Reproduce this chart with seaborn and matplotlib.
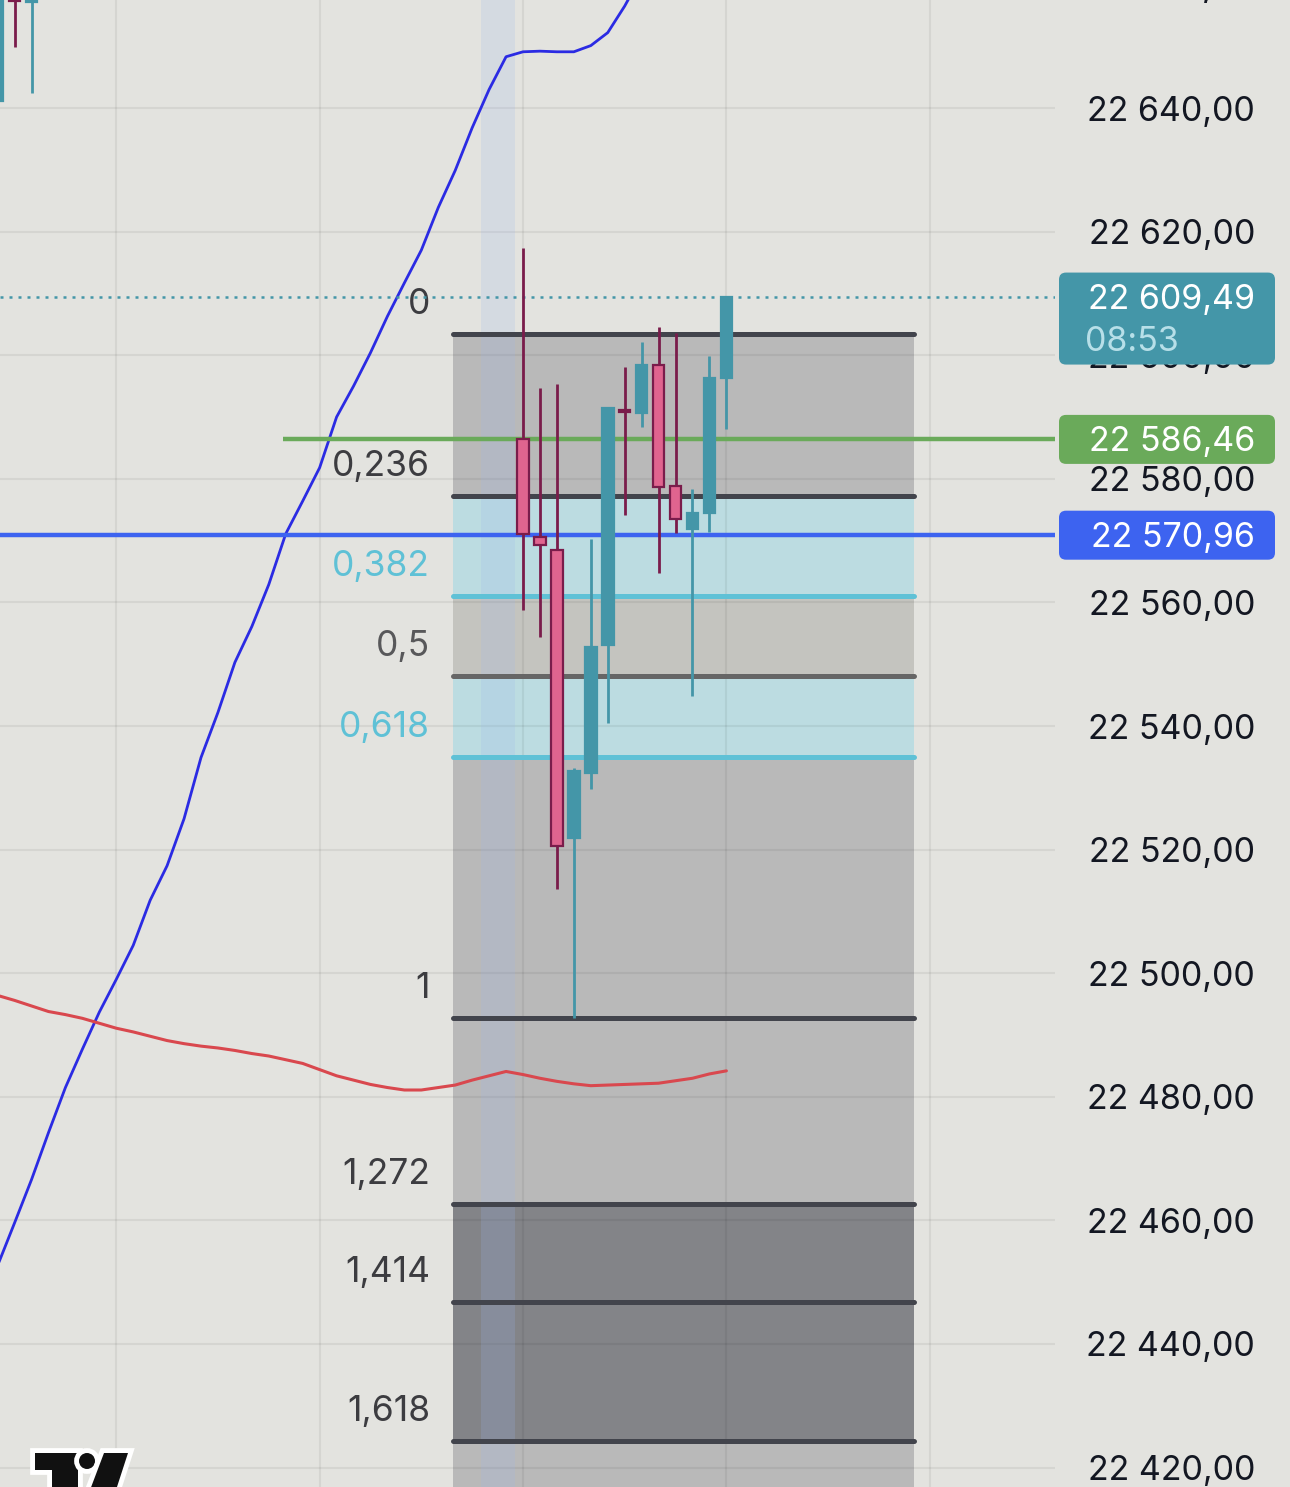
import matplotlib
matplotlib.use("Agg")
import seaborn as sns
import matplotlib.patheffects as pe
from matplotlib import pyplot as plt
from matplotlib.patches import FancyBboxPatch, Circle, Polygon
from matplotlib.transforms import IdentityTransform, blended_transform_factory

# candles: bar index relative to the first bar of the swing, OHLC
bar_idx = [-31, -30, -29, 0, 1, 2, 3, 4, 5, 6, 7, 8, 9, 10, 11, 12]
opens = [22641.1, 22668.0, 22657.2, 22586.5, 22570.6, 22568.5, 22521.8, 22532.4,
         22553.1, 22591.1, 22590.7, 22598.4, 22578.8, 22571.9, 22574.5, 22596.3]
highs = [22668.0, 22670.0, 22668.0, 22617.4, 22594.7, 22595.3, 22533.2, 22570.3,
         22591.5, 22598.1, 22602.1, 22604.6, 22603.6, 22578.4, 22599.9, 22609.49]
lows = [22641.1, 22649.9, 22642.5, 22558.8, 22554.4, 22513.6, 22492.7, 22529.8,
        22540.5, 22574.1, 22588.4, 22564.8, 22571.2, 22544.9, 22571.4, 22588.1]
closes = [22665.0, 22657.3, 22662.0, 22571.0, 22569.3, 22520.6, 22532.7, 22552.8,
          22591.5, 22590.8, 22598.4, 22578.7, 22573.5, 22574.5, 22596.3, 22609.49]

# fast moving average (blue)
fast_idx = list(range(-31, 8))
fast_ma = [22452.7, 22459.6, 22466.6, 22474.2, 22481.5, 22487.7, 22493.7, 22499.0,
           22504.5, 22511.8, 22517.4, 22525.0, 22534.9, 22542.2, 22550.3, 22556.1,
           22562.9, 22571.1, 22576.4, 22581.8, 22590.0, 22595.0, 22600.4, 22606.3,
           22611.7, 22617.0, 22623.9, 22629.9, 22636.8, 22643.0, 22648.3, 22649.1,
           22649.2, 22649.1, 22649.1, 22650.1, 22652.2, 22656.5, 22661.5]

# slow moving average (red)
slow_idx = list(range(-31, 13))
slow_ma = [22496.4, 22495.6, 22494.7, 22493.8, 22493.3, 22492.7, 22491.9, 22491.1,
           22490.5, 22489.8, 22489.1, 22488.6, 22488.2, 22487.9, 22487.5, 22487.0,
           22486.6, 22486.0, 22485.4, 22484.4, 22483.4, 22482.7, 22482.0, 22481.5,
           22481.1, 22481.1, 22481.5, 22481.9, 22482.7, 22483.4, 22484.1, 22483.6,
           22483.0, 22482.5, 22482.1, 22481.8, 22481.9, 22482.0, 22482.1, 22482.2,
           22482.6, 22483.0, 22483.7, 22484.2]

# fibonacci retracement
fib_top = 22603.4
fib_bottom = 22492.7
fib_levels = [0, 0.236, 0.382, 0.5, 0.618, 1, 1.272, 1.414, 1.618, 2.618]
fib_labels = ['0', '0,236', '0,382', '0,5', '0,618', '1', '1,272', '1,414', '1,618', '']

last_price = 22609.49
last_price_text = '22 609,49'
countdown = '08:53'
green_level = 22586.46
green_text = '22 586,46'
blue_level = 22570.96
blue_text = '22 570,96'
price_ticks = list(range(22420, 22661, 20))
grid_bars = [-24, -12, 0, 12, 24]

BG = '#e3e3df'
TEAL = '#4496a8'
BEAR = '#e0648f'
BEAR_EDGE = '#7a1c4b'
DARK = '#42444c'
CYAN = '#5fc1d6'

zone_colors = ['#b9b9b9', '#bcdce1', '#c4c4bf', '#bcdce1', '#b9b9b9',
               '#b9b9b9', '#838488', '#838488', '#b9b9b9']
line_colors = [DARK, DARK, CYAN, '#666666', CYAN, DARK, DARK, DARK, DARK, DARK]
label_colors = ['#3c3c40', '#3c3c40', CYAN, '#58585a', CYAN,
                '#3c3c40', '#3c3c40', '#3c3c40', '#3c3c40', '#3c3c40']

sns.set_theme(style='white')
plt.rcParams['font.family'] = ['Inter', 'DejaVu Sans']

fig = plt.figure(figsize=(12.9, 14.87), dpi=100)
fig.patch.set_facecolor(BG)
ax = fig.add_axes([0, 0, 1055 / 1290, 1])
ax.set_facecolor(BG)
ax.set_xlim(-30.86, 31.39)
ax.set_ylim(22416.86, 22657.48)
for s in ax.spines.values():
    s.set_visible(False)
ax.set_xticks([])
ax.set_yticks([])

# grid
for p in price_ticks:
    ax.axhline(p, color='black', alpha=0.06, lw=1.5, zorder=1.2)
for b in grid_bars:
    ax.axvline(b, color='black', alpha=0.06, lw=1.5, zorder=1.2)

# fib zones and levels
fib_start, fib_end, fib_label_x = -4.13, 23.07, -5.49
fib_prices = [fib_top + lv * (fib_bottom - fib_top) for lv in fib_levels]
for k in range(len(fib_prices) - 1):
    ax.fill_between([fib_start, fib_end], fib_prices[k], fib_prices[k + 1],
                    color=zone_colors[k], lw=0, zorder=1)
for p, lbl, lc, tc in zip(fib_prices[:-1], fib_labels, line_colors, label_colors):
    ax.hlines(p, fib_start, fib_end, colors=lc, lw=3.6, capstyle='round', zorder=2.6)
    ax.annotate(lbl, (fib_label_x, p), xytext=(0, 20), textcoords='offset pixels',
                ha='right', va='baseline', fontsize=25.5, color=tc, zorder=2.6)

# highlighted session band
ax.axvspan(-2.5, -0.5, color='#9cb6ee', alpha=0.2, lw=0, zorder=1.5)

# moving averages
sns.lineplot(x=fast_idx, y=fast_ma, color='#2b2be3', lw=2.0, ax=ax, zorder=3)
sns.lineplot(x=slow_idx, y=slow_ma, color='#d9484e', lw=2.2, ax=ax, zorder=3)

# horizontal price lines
ax.axhline(last_price, color=TEAL, lw=1.8, dashes=(1.2, 2.4), zorder=3)
ax.hlines(green_level, -14.16, ax.get_xlim()[1], colors='#6aaa5a', lw=3.2, zorder=3)
ax.axhline(blue_level, color='#3d63f0', lw=3.2, zorder=3.2)

# candles
bull = [c >= o for o, c in zip(opens, closes)]
wick_cols = [TEAL if b else BEAR_EDGE for b in bull]
ax.vlines(bar_idx, lows, highs, colors=wick_cols, lw=2.0, zorder=4)
ax.bar(bar_idx, [abs(c - o) for o, c in zip(opens, closes)],
       bottom=[min(o, c) for o, c in zip(opens, closes)], width=0.68,
       color=[TEAL if b else BEAR for b in bull],
       edgecolor=[TEAL if b else BEAR_EDGE for b in bull], linewidth=1.6, zorder=5)

# right price scale
yt = blended_transform_factory(fig.transFigure, ax.transData)
for p in price_ticks + [22660]:
    lbl = f'{p:,.2f}'.replace(',', ' ').replace('.', ',')
    fig.text(1255 / 1290, p, lbl, transform=yt, ha='right', va='center_baseline',
             fontsize=24.5, color='#131722', zorder=3)


def price_tag(price, text, face, sub=None):
    y = ax.transData.transform((0, price))[1]
    h = 92 if sub else 49
    box = FancyBboxPatch((1059, y + 24 - h), 216, h,
                         boxstyle='round,pad=0,rounding_size=7', fc=face, ec='none',
                         transform=IdentityTransform(), zorder=10)
    fig.add_artist(box)
    fig.text(1255, y, text, transform=IdentityTransform(), ha='right',
             va='center_baseline', fontsize=24.5, color='white', zorder=11)
    if sub:
        fig.text(1085, y - 42, sub, transform=IdentityTransform(), ha='left',
                 va='center_baseline', fontsize=24.5, color='#b7dfe8', zorder=11)


price_tag(last_price, last_price_text, TEAL, countdown)
price_tag(green_level, green_text, '#6aaa5a')
price_tag(blue_level, blue_text, '#3d63f0')

# watermark logo
H = 1487
stroke = [pe.withStroke(linewidth=7, foreground='white')]
logo = [Polygon([(35, H - 1453), (78, H - 1453), (78, H - 1490), (52, H - 1490),
                 (52, H - 1470), (35, H - 1470)], closed=True),
        Circle((87, H - 1461), 8),
        Polygon([(104, H - 1453), (128, H - 1453), (116, H - 1490), (90, H - 1490)],
                closed=True)]
for art in logo:
    art.set_facecolor('#111111')
    art.set_edgecolor('none')
    art.set_transform(IdentityTransform())
    art.set_path_effects(stroke)
    art.set_zorder(12)
    fig.add_artist(art)

fig.savefig('out.png', dpi=100, facecolor=BG)
